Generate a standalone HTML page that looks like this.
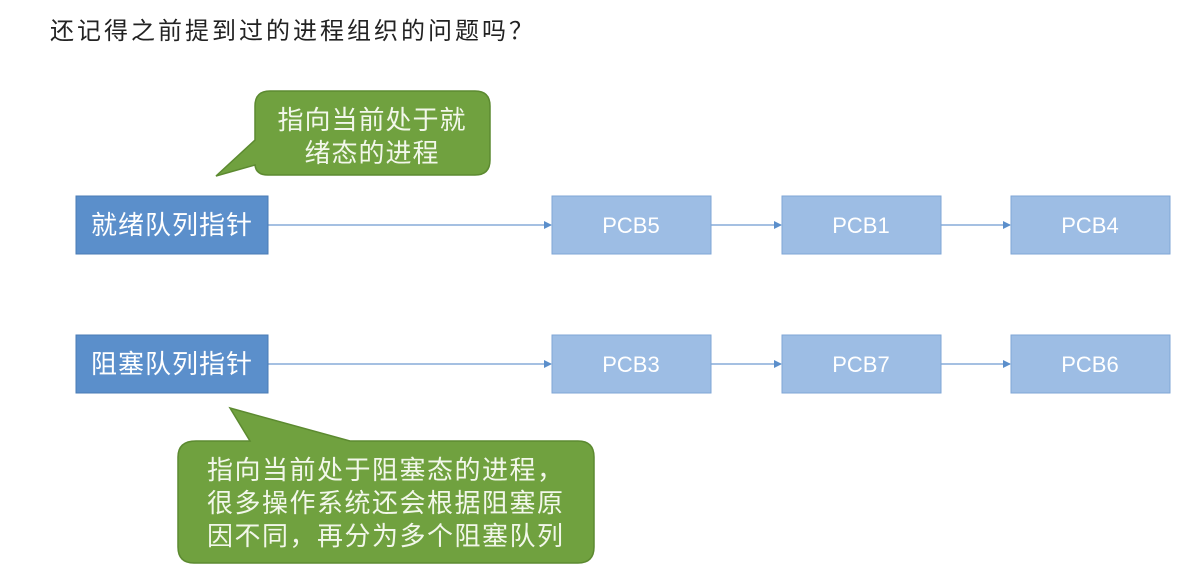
<!DOCTYPE html>
<html><head><meta charset="utf-8"><style>
body{margin:0;background:#fff;}
svg text{font-family:"Liberation Sans","Noto Sans CJK SC",sans-serif;}
</style></head><body>
<svg width="1181" height="566" viewBox="0 0 1181 566" xmlns="http://www.w3.org/2000/svg">
<defs><marker id="a" markerWidth="8" markerHeight="8" refX="7" refY="4" orient="auto" markerUnits="userSpaceOnUse"><path d="M0,0L8,4L0,8z" fill="#5b8fcb"/></marker></defs>
<text x="50" y="39" font-size="24" letter-spacing="3" fill="#222">还记得之前提到过的进程组织的问题吗？</text>
<!-- top callout -->
<path d="M270,91 H475 Q490,91 490,106 V160 Q490,175 475,175 H268 Q256,175 255,165 L216,176 L255,140 V106 Q255,91 270,91 Z" fill="#70a13f" stroke="#5c8a30" stroke-width="1.5"/>
<text x="372" y="129" font-size="26" letter-spacing="1" fill="#f2f7ea" text-anchor="middle">指向当前处于就</text>
<text x="372" y="162" font-size="26" letter-spacing="1" fill="#f2f7ea" text-anchor="middle">绪态的进程</text>
<!-- rows -->
<g stroke="#6f9bd0" stroke-width="1.3" fill="none">
<line x1="268" y1="225" x2="551" y2="225" marker-end="url(#a)"/>
<line x1="711" y1="225" x2="781" y2="225" marker-end="url(#a)"/>
<line x1="941" y1="225" x2="1010" y2="225" marker-end="url(#a)"/>
<line x1="268" y1="364" x2="551" y2="364" marker-end="url(#a)"/>
<line x1="711" y1="364" x2="781" y2="364" marker-end="url(#a)"/>
<line x1="941" y1="364" x2="1010" y2="364" marker-end="url(#a)"/>
</g>
<g stroke="#4a7bb5" stroke-width="1">
<rect x="76" y="196" width="192" height="58" fill="#5b8fcb"/>
<rect x="76" y="335" width="192" height="58" fill="#5b8fcb"/>
</g>
<g stroke="#7fa6d6" stroke-width="1" fill="#9dbde4">
<rect x="552" y="196" width="159" height="58"/><rect x="782" y="196" width="159" height="58"/><rect x="1011" y="196" width="159" height="58"/>
<rect x="552" y="335" width="159" height="58"/><rect x="782" y="335" width="159" height="58"/><rect x="1011" y="335" width="159" height="58"/>
</g>
<g fill="#fff" text-anchor="middle">
<text x="172" y="234" font-size="26" letter-spacing="1">就绪队列指针</text>
<text x="172" y="373" font-size="26" letter-spacing="1">阻塞队列指针</text>
<g font-size="22">
<text x="631" y="233">PCB5</text><text x="861" y="233">PCB1</text><text x="1090" y="233">PCB4</text>
<text x="631" y="372">PCB3</text><text x="861" y="372">PCB7</text><text x="1090" y="372">PCB6</text>
</g>
</g>
<!-- bottom callout -->
<path d="M196,441 H250 L230,408 L350,441 H578 Q594,441 594,457 V547 Q594,563 578,563 H194 Q178,563 178,547 V457 Q178,441 196,441 Z" fill="#70a13f" stroke="#5c8a30" stroke-width="1.5"/>
<g fill="#f2f7ea" font-size="26" letter-spacing="1.5">
<text x="207" y="479">指向当前处于阻塞态的进程，</text>
<text x="207" y="512">很多操作系统还会根据阻塞原</text>
<text x="207" y="545">因不同，再分为多个阻塞队列</text>
</g>
</svg>
</body></html>
